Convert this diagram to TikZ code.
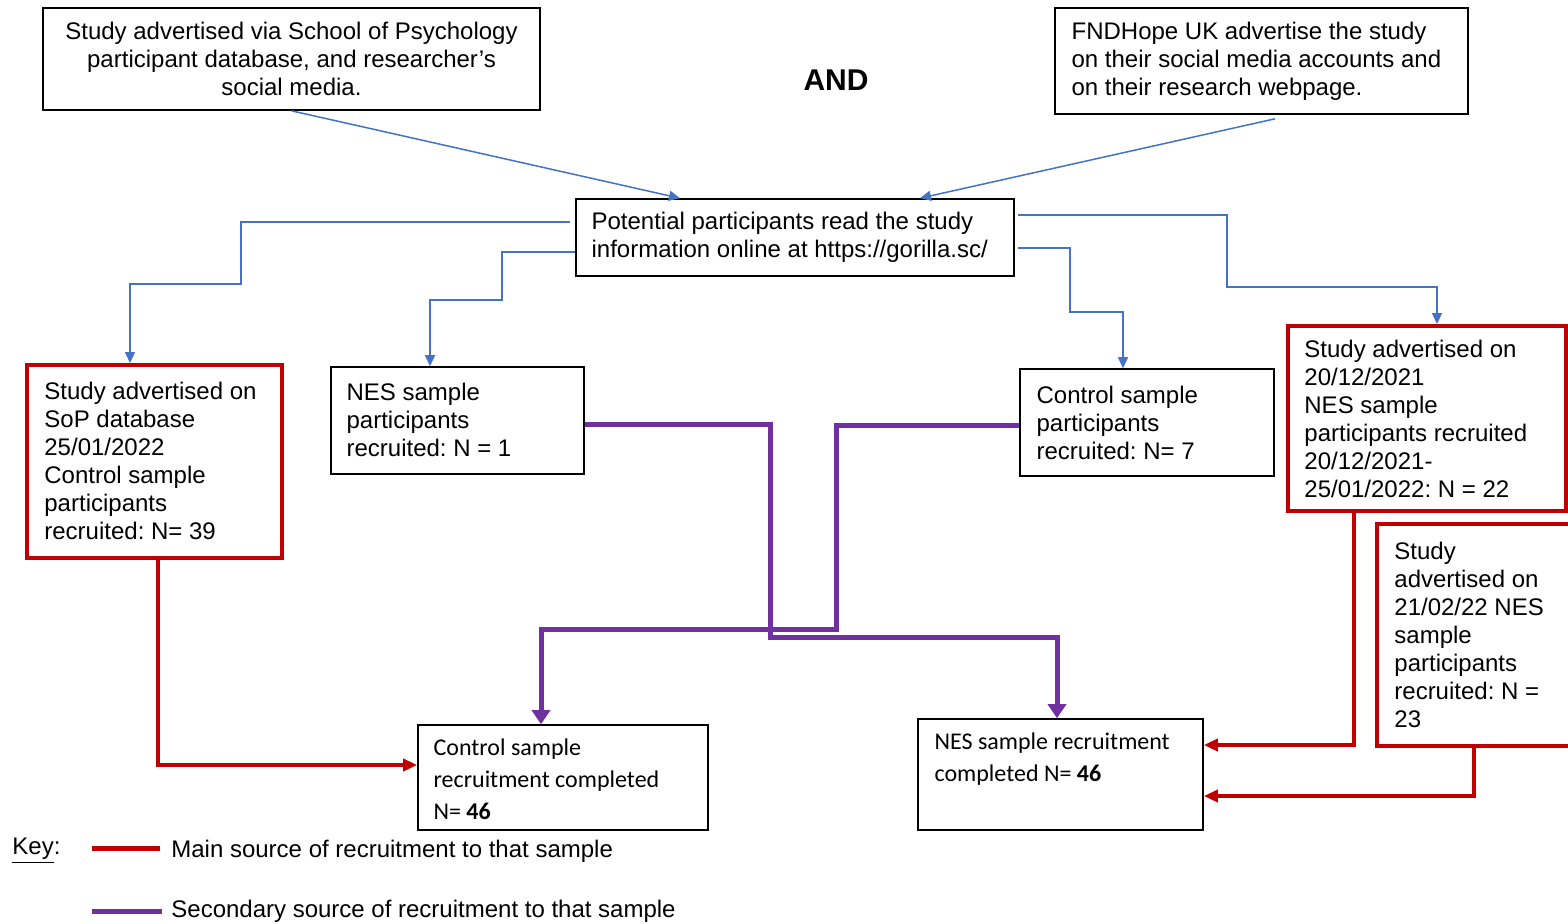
\documentclass[tikz,border=0pt]{standalone}
\usepackage{fontspec}
\setmainfont{Liberation Sans}
\newfontfamily\calfont{Carlito}
\usetikzlibrary{arrows.meta}
\definecolor{flowblue}{RGB}{68,114,196}
\definecolor{mainred}{RGB}{192,0,0}
\definecolor{secpurple}{RGB}{112,48,160}
\frenchspacing
\tikzset{
  box/.style={draw=black, line width=0.8pt, rectangle, inner sep=0pt},
  redbox/.style={draw=mainred, line width=2pt, rectangle, inner sep=0pt},
  txt/.style={inner sep=0pt, align=left, font=\fontsize{12}{14}\selectfont},
  caltxt/.style={inner sep=0pt, align=left, font=\calfont\fontsize{12}{16}\selectfont},
  bluearrow/.style={draw=flowblue, line width=0.75pt, -{Triangle[length=5.5pt,width=5pt]}},
  purplearrow/.style={draw=secpurple, line width=2.5pt, -{Triangle[length=7pt,width=9pt]}},
  redarrow/.style={draw=mainred, line width=2pt, -{Triangle[length=7pt,width=6pt]}},
}
\begin{document}
\begin{tikzpicture}[x=0.5pt, y=-0.5pt]
\useasboundingbox[fill=white] (0,0) rectangle (1568,923);

% top sources
\node[box, minimum width=248.5pt, minimum height=51pt] (A) at (291.5,59) {};
\node[txt, align=center] (At) at (A.center) {Study advertised via School of Psychology\\participant database, and researcher’s\\social media.};

\node[font=\bfseries\fontsize{15}{18}\selectfont, inner sep=0pt] (and) at (836,80) {AND};

\node[box, minimum width=206.5pt, minimum height=53pt] (B) at (1261.5,61) {};
\node[txt, anchor=west] (Bt) at ([xshift=8.5pt]B.west) {FNDHope UK advertise the study\\on their social media accounts and\\on their research webpage.};

% central information step
\node[box, minimum width=219pt, minimum height=38.5pt] (C) at (795,237.5) {};
\node[txt, anchor=west] (Ct) at ([xshift=8pt]C.west) {Potential participants read the study\\information online at https://gorilla.sc/};

% recruitment routes
\node[redbox, minimum width=127.5pt, minimum height=96.5pt] (D) at (154.5,461.5) {};
\node[txt, anchor=west] (Dt) at ([xshift=9.5pt, yshift=0.5pt]D.west) {Study advertised on\\SoP database\\25/01/2022\\Control sample\\participants\\recruited: N= 39};

\node[box, minimum width=126.5pt, minimum height=53.5pt] (E) at (457.5,420.5) {};
\node[txt, anchor=west] (Et) at ([xshift=8pt, yshift=0.5pt]E.west) {NES sample\\participants\\recruited: N = 1};

\node[box, minimum width=127pt, minimum height=53.5pt] (F) at (1147,422.5) {};
\node[txt, anchor=west] (Ft) at ([xshift=8.5pt]F.west) {Control sample\\participants\\recruited: N= 7};

\node[redbox, minimum width=139pt, minimum height=92.5pt] (G) at (1427,418.5) {};
\node[txt, anchor=west] (Gt) at ([xshift=9pt]G.west) {Study advertised on\\20/12/2021\\NES sample\\participants recruited\\20/12/2021-\\25/01/2022: N = 22};

\node[redbox, minimum width=106.5pt, minimum height=111pt] (H) at (1483.5,635) {};
\node[txt, anchor=west] (Ht) at ([xshift=9.5pt]H.west) {Study\\advertised on\\21/02/22 NES\\sample\\participants\\recruited: N =\\23};

% completed samples
\node[box, minimum width=145pt, minimum height=52.5pt] (I) at (563,777.5) {};
\node[caltxt, anchor=west] (It) at ([xshift=8pt, yshift=-1pt]I.west) {Control sample\\recruitment completed\\N= \textbf{46}};

\node[box, minimum width=142.5pt, minimum height=55.5pt] (J) at (1060.5,774.5) {};
\node[caltxt, anchor=west] (Jt) at ([xshift=8.5pt, yshift=7.75pt]J.west) {NES sample recruitment\\completed N= \textbf{46}};

% blue flow
\draw[bluearrow] (A.south) -- ([xshift=-57.5pt]C.north);
\draw[bluearrow] ([xshift=6.75pt, yshift=-2pt]B.south) -- ([xshift=62.5pt]C.north);
\draw[bluearrow] ([xshift=-2.5pt, yshift=7.75pt]C.west) -| (241,284) -| ([xshift=-12.25pt]D.north);
\draw[bluearrow] ([yshift=-7.25pt]C.west) -| (502,300) -| ([xshift=-13.75pt]E.north);
\draw[bluearrow] ([xshift=1.5pt, yshift=11.25pt]C.east) -| (1227,287) -| ([xshift=5pt]G.north);
\draw[bluearrow] ([xshift=1.5pt, yshift=-5.25pt]C.east) -| (1070,312) -| ([xshift=-12pt]F.north);

% secondary sources
\draw[purplearrow] ([yshift=-1.75pt]E.east) -| (770,637) -| ([xshift=-1.75pt]J.north);
\draw[purplearrow] ([yshift=-1.25pt]F.west) -| (836,629) -| ([xshift=-11pt]I.north);

% main sources
\draw[redarrow] ([xshift=1.75pt]D.south) |- ([yshift=6.25pt]I.west);
\draw[redarrow] ([xshift=-36.5pt]G.south) |- ([yshift=14.75pt]J.east);
\draw[redarrow] ([xshift=-4.75pt]H.south) |- ([yshift=-10.75pt]J.east);

% key
\node[txt, anchor=west] (key) at (12,851) {\underline{Key}:};
\node[txt, anchor=west] (k1) at (171,851) {Main source of recruitment to that sample};
\node[txt, anchor=west] (k2) at (171,911) {Secondary source of recruitment to that sample};
\draw[draw=mainred, line width=2.5pt] ([xshift=-5.5pt, yshift=1.5pt]k1.west) -- ++(-34pt,0);
\draw[draw=secpurple, line width=2.5pt] ([xshift=-4.5pt, yshift=0pt]k2.west) -- ++(-35pt,0);
\end{tikzpicture}
\end{document}
